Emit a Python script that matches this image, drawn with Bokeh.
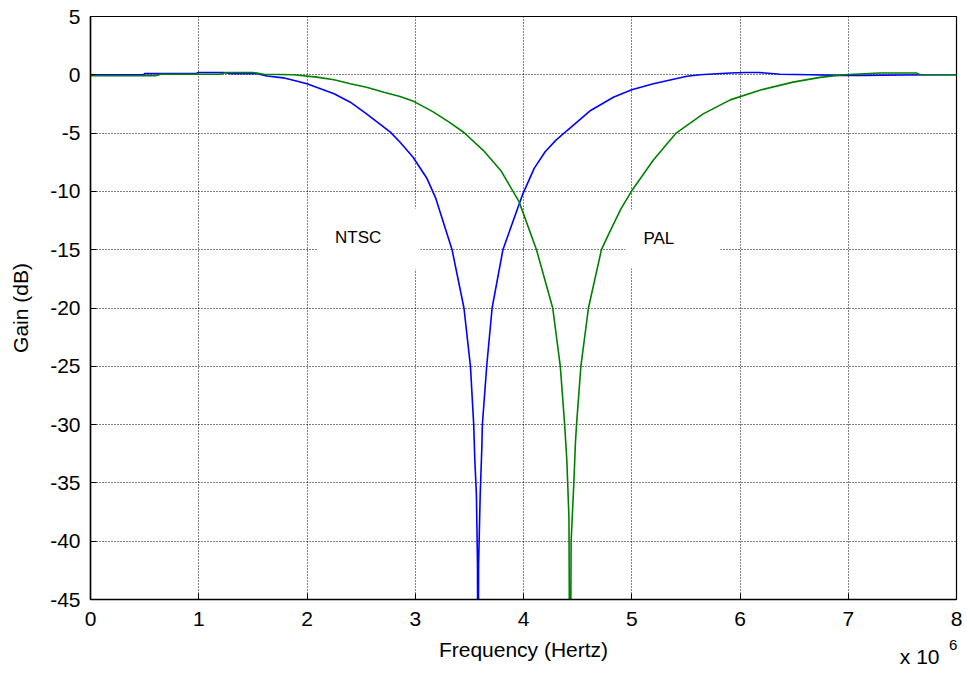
from bokeh.plotting import figure
from bokeh.models import Label, FixedTicker, Range1d, LinearAxis
from bokeh.embed import file_html
from bokeh.resources import INLINE

# Frequency in units of 1e6 Hz, gain in dB
ntsc_freq = [0.0, 0.3, 0.49, 0.5, 0.97, 1.0, 1.23, 1.3, 1.54, 1.63, 1.78, 1.91, 2.0,
             2.25, 2.40, 2.55, 2.77, 2.86, 2.98, 3.11, 3.19, 3.34, 3.45, 3.51, 3.54,
             3.55, 3.565, 3.575, 3.58, 3.585, 3.60, 3.615, 3.62, 3.66, 3.71, 3.81,
             3.99, 4.10, 4.20, 4.30, 4.40, 4.62, 4.83, 5.0, 5.20, 5.51, 5.63, 5.91, 6.05,
             6.17, 6.37, 6.65, 6.93, 7.14, 7.5, 8.0]
ntsc_gain = [0.0, 0.0, 0.0, 0.1, 0.1, 0.2, 0.2, 0.1, 0.1, -0.1, -0.26, -0.55, -0.77,
             -1.63, -2.35, -3.35, -4.92, -5.78, -7.07, -8.92, -10.6, -15.0, -20.0, -25.0, -30.0,
             -33.0, -36.0, -42.0, -60.0, -42.0, -36.0, -32.0, -30.0, -25.0, -20.0, -15.0,
             -10.3, -8.0, -6.6, -5.6, -4.8, -3.06, -1.92, -1.29, -0.77, -0.12, 0.0, 0.15, 0.2,
             0.2, 0.05, 0.0, -0.05, -0.05, -0.02, 0.0]

pal_freq = [0.0, 0.6, 0.65, 1.2, 1.25, 1.5, 1.6, 1.88, 2.09, 2.25, 2.40, 2.55, 2.71,
            2.86, 2.99, 3.17, 3.32, 3.45, 3.63, 3.79, 3.96, 4.12, 4.27, 4.34, 4.38,
            4.40, 4.42, 4.43, 4.44, 4.465, 4.48, 4.49, 4.53, 4.60, 4.72, 4.80, 4.90, 5.0,
            5.20, 5.41, 5.66, 5.91, 6.19, 6.49, 6.74, 6.96, 7.29, 7.63, 7.66, 8.0]
pal_gain = [-0.08, -0.08, 0.05, 0.05, 0.2, 0.2, 0.05, 0.0, -0.2, -0.43, -0.77, -1.06, -1.49,
            -1.86, -2.3, -3.2, -4.1, -4.95, -6.5, -8.2, -10.9, -15.0, -20.0, -25.0, -30.0,
            -33.0, -38.0, -60.0, -40.0, -35.0, -31.5, -30.0, -25.0, -20.0, -15.0, -13.4, -11.5, -9.95,
            -7.3, -5.0, -3.35, -2.15, -1.3, -0.63, -0.22, 0.0, 0.15, 0.15, 0.03, 0.0]

x_ticks = [0, 1, 2, 3, 4, 5, 6, 7, 8]
y_ticks = [5, 0, -5, -10, -15, -20, -25, -30, -35, -40, -45]
scale_base = "x 10"
scale_base_pos = 7.66
scale_exp = "6"
scale_exp_pos = 7.97

FONT = "Liberation Sans"

p = figure(width=967, height=675, output_backend="svg", toolbar_location=None,
           x_range=Range1d(0, 8), y_range=Range1d(-45, 5),
           min_border_left=90, min_border_right=11, min_border_top=16, min_border_bottom=76,
           background_fill_color="white", border_fill_color="white")

p.outline_line_color = "black"
p.outline_line_width = 1.2

for ax in (p.xaxis, p.yaxis):
    ax.major_tick_in = 6
    ax.major_tick_out = 0
    ax.minor_tick_line_color = None
    ax.axis_line_color = "black"
    ax.axis_line_width = 1.5
    ax.major_tick_line_color = "black"
    ax.major_label_text_font = FONT
    ax.major_label_text_font_size = "21px"
    ax.major_label_text_color = "black"
    ax.axis_label_text_font = FONT
    ax.axis_label_text_font_size = "21px"
    ax.axis_label_text_font_style = "normal"
    ax.axis_label_text_color = "black"

p.xaxis.ticker = FixedTicker(ticks=x_ticks)
p.yaxis.ticker = FixedTicker(ticks=y_ticks)
p.xaxis.major_label_overrides = {t: str(t) for t in x_ticks}
p.yaxis.major_label_overrides = {t: str(t) for t in y_ticks}
p.xaxis.axis_label = "Frequency (Hertz)"
p.yaxis.axis_label = "Gain (dB)"
p.xaxis.major_label_standoff = 12
p.yaxis.major_label_standoff = 10
p.xaxis.axis_label_standoff = 9
p.yaxis.axis_label_standoff = 15


def scale_axis(pos, text, size, standoff):
    return LinearAxis(ticker=FixedTicker(ticks=[pos]),
                      major_label_overrides={pos: text},
                      axis_line_color=None, major_tick_line_color=None,
                      minor_tick_line_color=None, major_tick_in=0, major_tick_out=0,
                      major_label_standoff=standoff, major_label_text_font=FONT,
                      major_label_text_font_size=size, major_label_text_color="black")


# scale factor "x 10^6": base and raised exponent as labels of line-less axes
p.add_layout(scale_axis(scale_base_pos, scale_base, "21px", -19), "below")
p.add_layout(scale_axis(scale_exp_pos, scale_exp, "15px", -31), "below")

for g in (p.xgrid, p.ygrid):
    g.grid_line_color = "black"
    g.grid_line_dash = "1 2"
    g.grid_line_width = 1
    g.grid_line_alpha = 1.0
p.xgrid.ticker = FixedTicker(ticks=x_ticks)
p.ygrid.ticker = FixedTicker(ticks=y_ticks)

p.line(ntsc_freq, ntsc_gain, line_color="#0000ff", line_width=1.6)
p.line(pal_freq, pal_gain, line_color="#008000", line_width=1.6)

for txt, xx, pad in (("NTSC", 2.57, (18, 39, 20, 22)), ("PAL", 5.38, (18, 46, 20, 20))):
    p.add_layout(Label(x=xx, y=-14.08, text=txt, text_align="center", text_baseline="middle",
                       text_font=FONT, text_font_size="17px", text_color="black",
                       background_fill_color="white", background_fill_alpha=1.0,
                       padding=pad))

open("out.html", "w").write(file_html(p, INLINE))
